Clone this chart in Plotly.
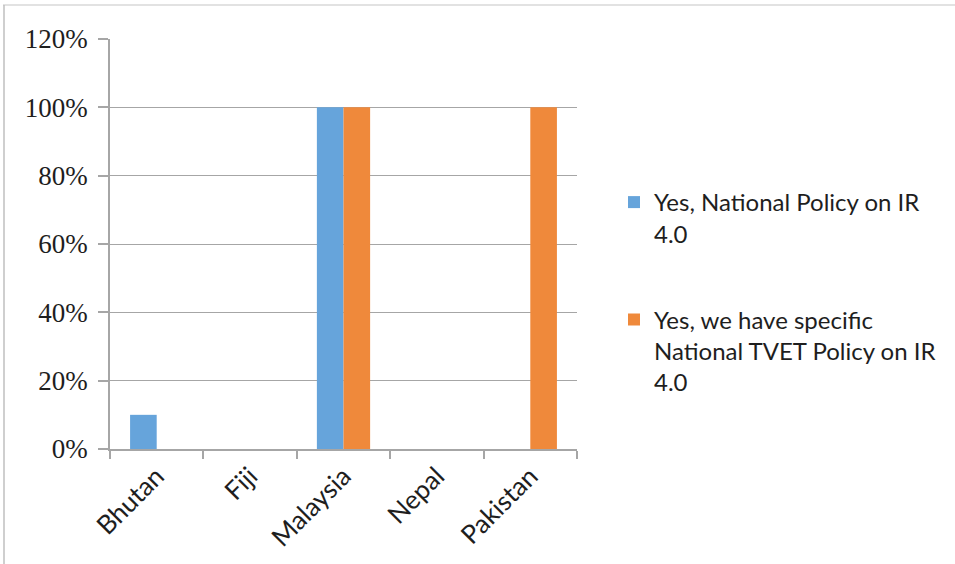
import plotly.graph_objects as go

# Share of countries reporting an IR 4.0 policy
countries = ["Bhutan", "Fiji", "Malaysia", "Nepal", "Pakistan"]
national_policy = [0.10, 0.0, 1.0, 0.0, 0.0]
tvet_policy = [0.0, 0.0, 1.0, 0.0, 1.0]
series_names = [
    "Yes, National Policy on IR<br>4.0",
    "Yes, we have specific<br>National TVET Policy on IR<br>4.0",
]
y_ticks = [0, 0.2, 0.4, 0.6, 0.8, 1.0, 1.2]

BLUE = "#66A4DB"
ORANGE = "#EF893B"
GRID = "#A6A6A6"
TEXT = "#1E1E1E"

W, H = 955, 564
L, R, T, B = 110, 378, 39, 115
pw, ph = W - L - R, H - T - B


def px_x(x):
    return (x - L) / pw


def px_y(y):
    return (H - B - y) / ph


fig = go.Figure()
fig.add_trace(go.Bar(x=countries, y=national_policy, name=series_names[0],
                     marker=dict(color=BLUE, line=dict(width=0)),
                     legendgroup="a"))
fig.add_trace(go.Bar(x=countries, y=tvet_policy, name=series_names[1],
                     marker=dict(color=ORANGE, line=dict(width=0)),
                     legendgroup="b"))

# thin frame along the top and left edges
fig.add_shape(type="line", xref="paper", yref="paper",
              x0=px_x(3), x1=px_x(955), y0=px_y(5), y1=px_y(5),
              line=dict(color="#D9D9D9", width=1.5))
fig.add_shape(type="line", xref="paper", yref="paper",
              x0=px_x(4), x1=px_x(4), y0=px_y(5), y1=px_y(564),
              line=dict(color="#BFBFBF", width=1.5))

fig.update_layout(
    width=W, height=H,
    margin=dict(l=L, r=R, t=T, b=B, pad=0),
    paper_bgcolor="white", plot_bgcolor="white",
    barmode="group", bargap=0.43, bargroupgap=0,
    font=dict(family="Lato, Liberation Sans, sans-serif", color=TEXT),
    legend=dict(x=px_x(614), y=px_y(180), xanchor="left", yanchor="top",
                font=dict(size=24, family="Lato, sans-serif", color=TEXT),
                valign="top", tracegroupgap=52, bgcolor="rgba(0,0,0,0)",
                itemclick=False),
    showlegend=True,
)
fig.update_xaxes(
    showline=True, linecolor=GRID, linewidth=1.5,
    ticks="outside", ticklen=8, tickcolor=GRID, tickwidth=1.5,
    tickson="boundaries", tickangle=-45,
    tickfont=dict(size=26, family="Lato, sans-serif", color=TEXT),
    showgrid=False,
)
fig.update_yaxes(
    range=[0, 1.2], tickvals=y_ticks, tickformat=".0%",
    showline=True, linecolor=GRID, linewidth=1.5,
    ticks="outside", ticklen=10, tickcolor=GRID, tickwidth=1.5,
    showgrid=True, gridcolor=GRID, gridwidth=1.2, zeroline=False,
    tickfont=dict(size=27, family="Liberation Serif, Times New Roman, serif",
                  color=TEXT),
    ticklabelstandoff=5,
)

fig.write_html("out.html")
